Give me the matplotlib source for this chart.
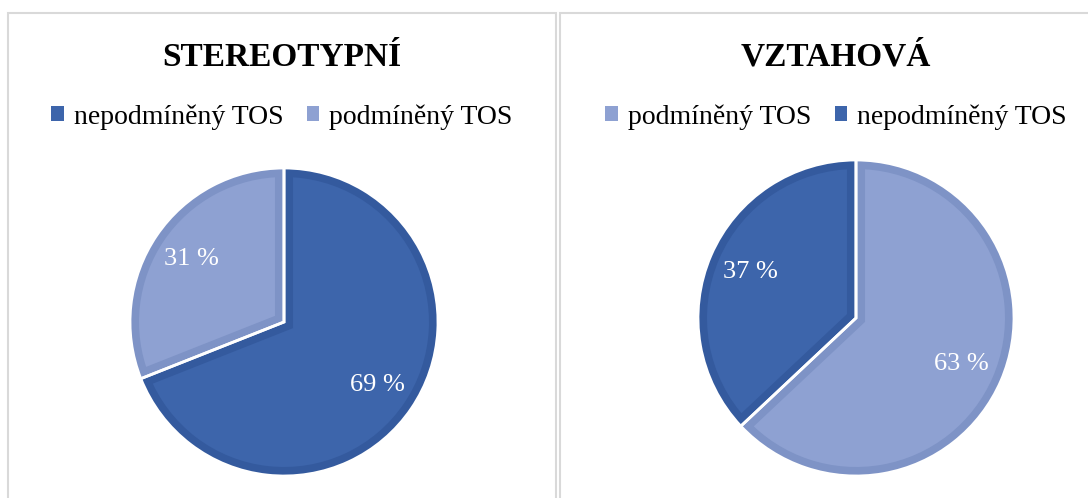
import matplotlib.pyplot as plt
from matplotlib.patches import Patch, Rectangle

plt.rcParams['font.family'] = ['Liberation Serif', 'DejaVu Serif']

# data
titles = ['STEREOTYPNÍ', 'VZTAHOVÁ']
labels_1 = ['nepodmíněný TOS', 'podmíněný TOS']
values_1 = [69, 31]
labels_2 = ['podmíněný TOS', 'nepodmíněný TOS']
values_2 = [63, 37]

W, H = 1088, 498
dark_fill, dark_edge = '#3D65AB', '#345A9E'
light_fill, light_edge = '#8EA1D2', '#7E93C6'
fills = {'nepodmíněný TOS': dark_fill, 'podmíněný TOS': light_fill}
edges = {'nepodmíněný TOS': dark_edge, 'podmíněný TOS': light_edge}

fig = plt.figure(figsize=(W / 100, H / 100), dpi=100)

# panel borders
for x0, x1 in [(8, 556), (560, 1100)]:
    fig.patches.append(Rectangle((x0 / W, -0.1), (x1 - x0) / W, (H - 13) / H + 0.1,
                                 transform=fig.transFigure, fill=False,
                                 edgecolor='#D9D9D9', linewidth=1.5))


def draw_panel(labels, values, title, cx, cy, r, px0, px1):
    pad = 1.06
    size = 2 * r * pad
    ax = fig.add_axes([(cx - size / 2) / W, (H - cy - size / 2) / H, size / W, size / H])
    cols = [fills[l] for l in labels]
    wedges, texts, autotexts = ax.pie(values, colors=cols, startangle=90, counterclock=False,
                                      autopct=lambda p: '%.0f %%' % p, pctdistance=0.73,
                                      textprops=dict(color='white', fontsize=19))
    # inner border: thick edge clipped to the wedge itself
    for w, l in zip(wedges, labels):
        w.set_edgecolor(edges[l])
        w.set_linewidth(13)
        w.set_clip_on(True)
        w.set_clip_path(w)
        w.set_zorder(1)
    for t in autotexts:
        t.set_zorder(5)
    ax.pie(values, colors=['none'] * len(values), startangle=90, counterclock=False,
           wedgeprops=dict(edgecolor='white', linewidth=2, facecolor='none', zorder=3))
    ax.set_xlim(-pad, pad)
    ax.set_ylim(-pad, pad)
    ax.set_aspect('equal')
    ax.axis('off')

    mid = (px0 + px1) / 2 / W
    fig.text(mid, 1 - 57 / H, title, ha='center', va='center', fontsize=24,
             fontweight='bold')
    handles = [Patch(facecolor=fills[l], edgecolor='none') for l in labels]
    fig.legend(handles, labels, loc='center', bbox_to_anchor=(mid, 1 - 117 / H), ncol=2,
               frameon=False, fontsize=20, handlelength=0.45, handleheight=0.45,
               handletextpad=0.35, columnspacing=0.85, borderpad=0)


draw_panel(labels_1, values_1, titles[0], 284, 322, 154, 8, 556)
draw_panel(labels_2, values_2, titles[1], 856, 318, 158, 560, 1088 + 24)

fig.savefig('out.png', dpi=100)
